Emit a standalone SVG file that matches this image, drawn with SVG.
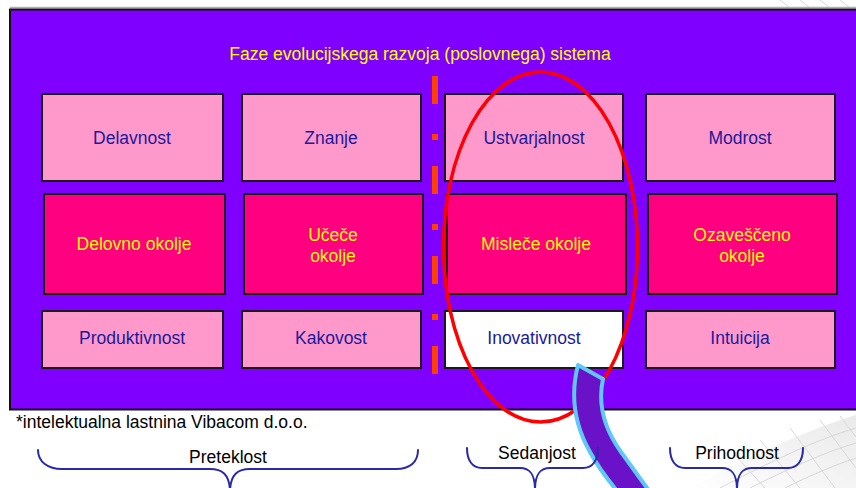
<svg xmlns="http://www.w3.org/2000/svg" width="856" height="488" viewBox="0 0 856 488">
<style>
text{font-family:"Liberation Sans",Arial,sans-serif;font-size:17.5px;text-anchor:middle}
.lt{fill:#ff99cc;stroke:#1a1a1a;stroke-width:2}
.dk{fill:#ff0080;stroke:#1a1a1a;stroke-width:2}
.wh{fill:#ffffff;stroke:#1a1a1a;stroke-width:2}
.nv{fill:#1a1a9a}
.yl{fill:#ffff00}
.bk{fill:#000000}
.brace{fill:none;stroke:#2a2aa6;stroke-width:2;stroke-linecap:round}
.mesh{fill:none;stroke:#d8d8d8;stroke-width:1}
</style>
<defs>
<linearGradient id="mg" x1="0" y1="1" x2="1" y2="0">
<stop offset="0" stop-color="#ffffff"/>
<stop offset="1" stop-color="#e4e4e4"/>
</linearGradient>
</defs>
<rect width="856" height="488" fill="#ffffff"/>
<g id="mesh">
<path d="M690,488 C740,462 800,432 856,415 L856,488 Z" fill="url(#mg)" opacity="0.8"/>
<path class="mesh" d="M720,488 C770,462 815,440 856,428 M750,488 C790,468 825,452 856,443 M785,488 C815,473 838,464 856,458 M760,440 L800,488 M790,428 L835,488 M820,420 L856,468 M840,416 L856,437 M735,455 L765,488"/>
<path class="mesh" d="M780,0 L790,8 M800,0 L810,8 M820,0 L830,8 M840,0 L850,8"/>
</g>
<line x1="10" y1="7.5" x2="856" y2="7.5" stroke="#b0b0b0" stroke-width="1.5"/>
<rect id="panel" x="10" y="9.5" width="850" height="400" fill="#8000ff" stroke="#111111" stroke-width="2"/>
<text id="title" class="yl" x="420" y="60">Faze evolucijskega razvoja (poslovnega) sistema</text>
<g id="divider"><line x1="435" y1="76" x2="435" y2="378" stroke="#ff4000" stroke-width="6" stroke-dasharray="28 30 6 26"/></g>
<g id="delavnost"><rect class="lt" x="42" y="94" width="181" height="87"/><text class="nv" x="132" y="144">Delavnost</text></g>
<g id="znanje"><rect class="lt" x="242" y="94" width="179" height="87"/><text class="nv" x="331" y="144">Znanje</text></g>
<g id="ustvarjalnost"><rect class="lt" x="445" y="94" width="178" height="87"/><text class="nv" x="534" y="144">Ustvarjalnost</text></g>
<g id="modrost"><rect class="lt" x="646" y="94" width="189" height="87"/><text class="nv" x="740" y="144">Modrost</text></g>
<g id="delovno-okolje"><rect class="dk" x="44" y="194" width="181" height="100"/><text class="yl" x="134" y="250">Delovno okolje</text></g>
<g id="ucece-okolje"><rect class="dk" x="244" y="194" width="179" height="100"/><text class="yl" x="333" y="241">Učeče</text><text class="yl" x="333" y="262">okolje</text></g>
<g id="mislece-okolje"><rect class="dk" x="447" y="194" width="179" height="100"/><text class="yl" x="536" y="250">Misleče okolje</text></g>
<g id="ozavesceno-okolje"><rect class="dk" x="648" y="194" width="189" height="100"/><text class="yl" x="742" y="241">Ozaveščeno</text><text class="yl" x="742" y="262">okolje</text></g>
<g id="produktivnost"><rect class="lt" x="42" y="311" width="181" height="57"/><text class="nv" x="132" y="344">Produktivnost</text></g>
<g id="kakovost"><rect class="lt" x="242" y="311" width="179" height="57"/><text class="nv" x="331" y="344">Kakovost</text></g>
<g id="inovativnost"><rect class="wh" x="445" y="311" width="178" height="57"/><text class="nv" x="534" y="344">Inovativnost</text></g>
<g id="intuicija"><rect class="lt" x="646" y="311" width="189" height="57"/><text class="nv" x="740" y="344">Intuicija</text></g>
<g id="highlight"><ellipse cx="540.5" cy="247" rx="97" ry="175" fill="none" stroke="#ff0000" stroke-width="3.5"/></g>
<text id="footnote" class="bk" x="16" y="428" style="text-anchor:start">*intelektualna lastnina Vibacom d.o.o.</text>
<g id="connectors">
<path id="arrow" d="M578,365 L603,379 C598,402 603,427 621,452 C632,467 641,480 650,492 L618,492 C608,480 598,467 590,452 C573,422 571,392 578,365 Z" fill="#6a12c8" stroke="#5ec8f8" stroke-width="4" stroke-linejoin="round"/>
<path class="brace" d="M38,450 C38,462 48,469 62,469 L210,469 C222,469 229,474 230,490 C231,474 238,469 250,469 L396,469 C410,469 418,462 418,450"/>
<path class="brace" d="M467,448 C467,460 472,468 482,468 L520,468 C530,468 535,474 535,490 C535,474 540,468 550,468 L583,468 C593,468 598,460 598,448"/>
<path class="brace" d="M670,448 C670,460 675,468 685,468 L722,468 C732,468 737,474 737,490 C737,474 742,468 752,468 L788,468 C798,468 803,460 803,448"/>
</g>
<g id="period-labels">
<text class="bk" x="228" y="463">Preteklost</text>
<text class="bk" x="537" y="459">Sedanjost</text>
<text class="bk" x="737" y="459">Prihodnost</text>
</g>
</svg>
